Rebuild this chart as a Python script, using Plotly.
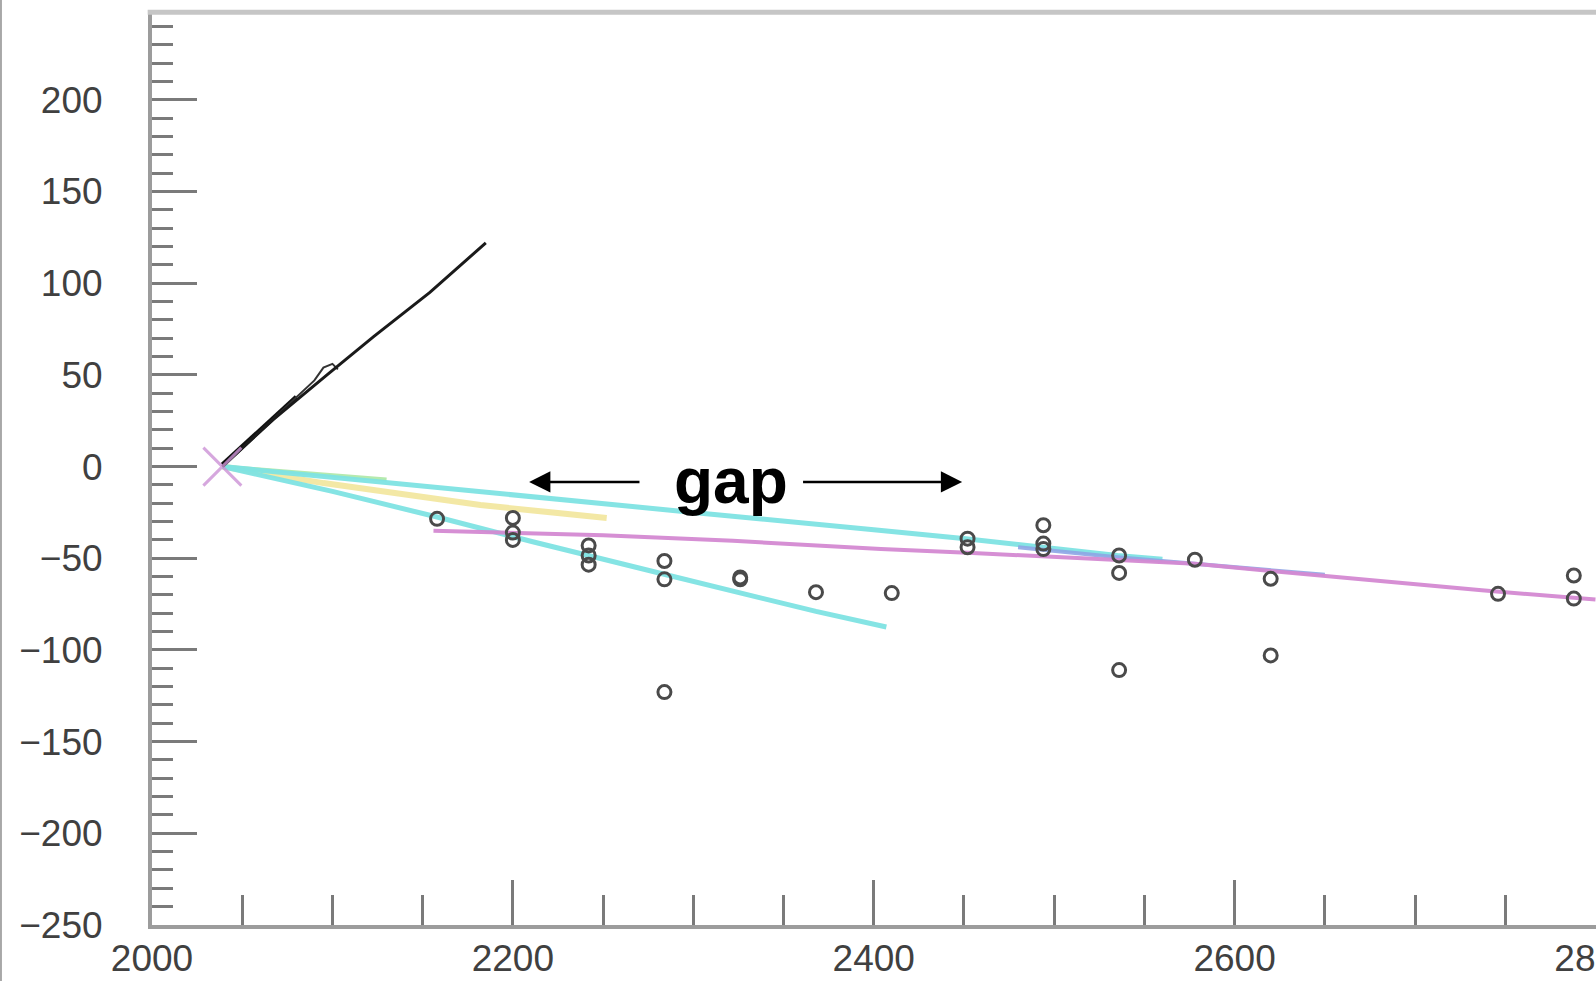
import plotly.graph_objects as go

# ---------------- data ----------------
obs_x = [2158, 2200, 2200, 2200, 2242, 2242, 2242, 2284, 2284, 2284, 2326, 2326,
         2368, 2410, 2452, 2452, 2494, 2494, 2494, 2536, 2536, 2536, 2578, 2620,
         2620, 2746, 2788, 2788]
obs_y = [-28.5, -28, -36, -40, -43, -48.5, -53.5, -51.5, -61.5, -123, -60.5, -61.5,
         -68.5, -69, -39.3, -44, -32, -42, -45, -48.5, -58, -111, -50.8, -61.2,
         -103, -69.4, -59.4, -72]

origin_x = [2039]
origin_y = [0]

black1_x = [2039, 2067, 2097, 2123, 2154, 2185]
black1_y = [0, 25.5, 50, 71, 95, 122]
black2_x = [2039, 2065, 2090, 2095, 2100, 2103]
black2_y = [0, 24, 47, 54, 56, 53]
black3_x = [2039, 2060, 2080]
black3_y = [1, 20, 38]

yellow_x = [2039, 2095, 2182, 2252]
yellow_y = [0, -9, -21, -28]
green_x = [2039, 2130]
green_y = [0, -7]
cyan_up_x = [2039, 2200, 2300, 2400, 2451, 2535, 2560]
cyan_up_y = [0, -15, -25, -34.5, -39.3, -48.5, -50.5]
blue_x = [2480, 2535, 2650]
blue_y = [-44, -49.5, -59]
cyan_low_x = [2039, 2100, 2158, 2211, 2285, 2368, 2407]
cyan_low_y = [0, -13.5, -27.5, -41, -59, -79, -87.5]
magenta_x = [2156, 2250, 2322, 2404, 2452, 2535, 2578, 2620, 2737, 2800]
magenta_y = [-35, -37.5, -40.5, -45, -47, -51, -53, -57, -67.5, -72.5]

gap_label = "gap"
gap_left = (2271, 2209)   # tail, head
gap_right = (2360, 2449)
gap_y = -8.4
gap_text_x = 2321
gap_text_y = -8.0

x_ticks = [2000, 2200, 2400, 2600, 2800]
y_ticks = [-250, -200, -150, -100, -50, 0, 50, 100, 150, 200]

# ---------------- figure ----------------
fig = go.Figure()

def line(x, y, color, width, opacity=1.0):
    fig.add_trace(go.Scatter(x=x, y=y, mode="lines", opacity=opacity,
                             line=dict(color=color, width=width),
                             hoverinfo="skip", showlegend=False))

line(yellow_x, yellow_y, "#f2e596", 6, 0.85)
line(green_x, green_y, "#aee8a6", 4, 0.9)
line(cyan_up_x, cyan_up_y, "#7fe3e3", 5, 0.95)
line(blue_x, blue_y, "#8ea6e6", 4, 0.9)
line(cyan_low_x, cyan_low_y, "#7fe3e3", 5, 0.95)
line(magenta_x, magenta_y, "#d48ad2", 4, 0.95)
line(black3_x, black3_y, "#111111", 4.5)
line(black2_x, black2_y, "#333333", 2)
line(black1_x, black1_y, "#1a1a1a", 3)

fig.add_trace(go.Scatter(x=obs_x, y=obs_y, mode="markers", showlegend=False,
                         marker=dict(symbol="circle-open", size=13,
                                     color="#4a4a4a",
                                     line=dict(width=3, color="#4a4a4a"))))

fig.add_trace(go.Scatter(x=origin_x, y=origin_y, mode="markers", showlegend=False,
                         opacity=0.8,
                         marker=dict(symbol="x-thin", size=38, color="#cc92d6",
                                     line=dict(width=3, color="#cc92d6"))))

# gap annotation
fig.add_annotation(x=gap_text_x, y=gap_text_y, xref="x", yref="y", text=gap_label,
                   showarrow=False, yanchor="middle", xanchor="center",
                   font=dict(family="Liberation Sans, Arial, sans-serif",
                             size=64, color="black", weight="bold"))
for tail, head in (gap_left, gap_right):
    fig.add_annotation(x=head, y=gap_y, ax=tail, ay=gap_y, xref="x", yref="y",
                       axref="x", ayref="y", text="", showarrow=True,
                       arrowhead=2, arrowsize=1.7, arrowwidth=2.5,
                       arrowcolor="black", standoff=0, startstandoff=0)

tick_font = dict(family="Liberation Sans, Arial, sans-serif", size=37, color="#404040")

fig.update_xaxes(range=[2000, 2800.3], tickvals=x_ticks, ticks="inside",
                 ticklen=45, tickwidth=3, tickcolor="#7a7a7a",
                 minor=dict(dtick=50, ticks="inside", ticklen=30, tickwidth=2.5,
                            tickcolor="#7a7a7a", tick0=2000),
                 showline=True, linecolor="#9c9c9c", linewidth=4,
                 showgrid=False, zeroline=False, tickfont=tick_font,
                 ticklabelstandoff=-2, ticklabeloverflow="allow",
                 automargin=False)
fig.update_yaxes(range=[-250, 249], tickvals=y_ticks, ticks="inside",
                 ticklen=45, tickwidth=3, tickcolor="#7a7a7a",
                 minor=dict(dtick=10, ticks="inside", ticklen=21, tickwidth=2.5,
                            tickcolor="#7a7a7a", tick0=0),
                 showline=True, linecolor="#9c9c9c", linewidth=4,
                 showgrid=False, zeroline=False, tickfont=tick_font,
                 ticklabelstandoff=38, automargin=False)

# frame lines (top border and left image edge)
fig.add_shape(type="line", xref="paper", yref="paper", x0=-0.003, x1=1.0,
              y0=0.9975, y1=0.9975, line=dict(color="#c6c6c6", width=5))
fig.add_shape(type="line", xref="paper", yref="paper", x0=-0.1046, x1=-0.1046,
              y0=-0.07, y1=1.02, line=dict(color="#a8a8a8", width=2))

fig.update_layout(width=1596, height=981,
                  margin=dict(l=152, r=0, t=10, b=56, autoexpand=False),
                  plot_bgcolor="white", paper_bgcolor="white",
                  showlegend=False)

fig.write_html("out.html")
